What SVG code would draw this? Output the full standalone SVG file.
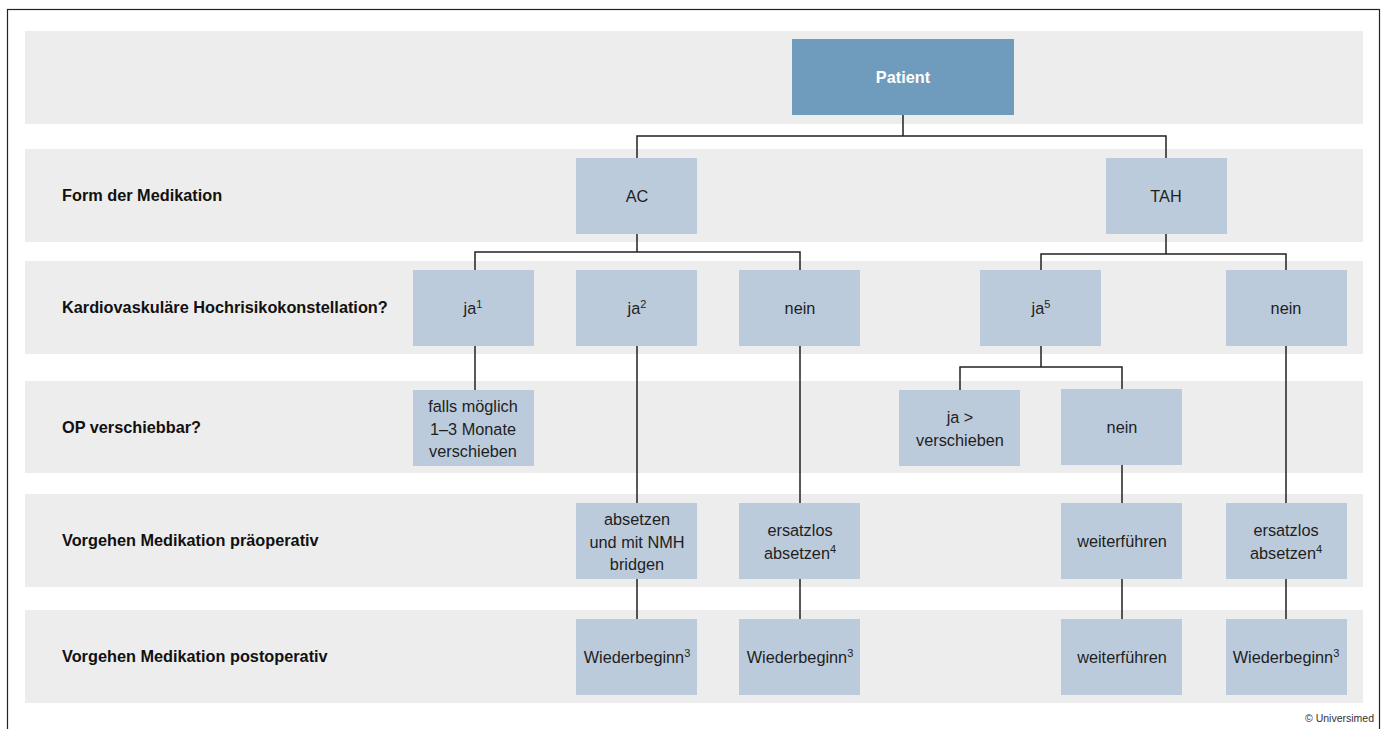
<svg xmlns="http://www.w3.org/2000/svg" width="1387" height="729" viewBox="0 0 1387 729">
<style>
.band{fill:#ededed}
.node{fill:#bccbdc}
.root{fill:#6f9bbd}
.lbl{font-family:"Liberation Sans",Arial,sans-serif;font-weight:bold;font-size:16.3px;fill:#111}
.t{font-family:"Liberation Sans",Arial,sans-serif;font-size:16.3px;fill:#1e1e1e;text-anchor:middle}
.rt{font-family:"Liberation Sans",Arial,sans-serif;font-size:16.3px;font-weight:bold;fill:#ffffff;text-anchor:middle}
.sup{font-size:11px}
.c{fill:none;stroke:#222;stroke-width:1.5}
.copy{font-family:"Liberation Sans",Arial,sans-serif;font-size:10.5px;fill:#333;text-anchor:end}
</style>
<rect x="0" y="0" width="1387" height="729" fill="#fff"/>
<rect x="7.5" y="9.5" width="1372" height="740" fill="none" stroke="#222" stroke-width="1.2"/>
<g id="bands">
<rect class="band" x="25" y="31" width="1338" height="93"/>
<rect class="band" x="25" y="149" width="1338" height="93"/>
<rect class="band" x="25" y="261" width="1338" height="93"/>
<rect class="band" x="25" y="381" width="1338" height="92"/>
<rect class="band" x="25" y="494" width="1338" height="93"/>
<rect class="band" x="25" y="610" width="1338" height="93"/>
</g>
<g id="row-labels">
<text class="lbl" x="62" y="201">Form der Medikation</text>
<text class="lbl" x="62" y="313">Kardiovaskuläre Hochrisikokonstellation?</text>
<text class="lbl" x="62" y="433">OP verschiebbar?</text>
<text class="lbl" x="62" y="546">Vorgehen Medikation präoperativ</text>
<text class="lbl" x="62" y="662">Vorgehen Medikation postoperativ</text>
</g>
<g id="connectors">
<path class="c" d="M903 115V136M637 158V136H1166V158"/>
<path class="c" d="M637 234V252M475 270V252H800V270"/>
<path class="c" d="M1166 234V254M1041 270V254H1286V270"/>
<path class="c" d="M475 346V390"/>
<path class="c" d="M637 346V503M637 579V619"/>
<path class="c" d="M800 346V503M800 579V619"/>
<path class="c" d="M1041 346V367M960 390V367H1122V389"/>
<path class="c" d="M1122 465V503M1122 579V619"/>
<path class="c" d="M1286 346V503M1286 579V619"/>
</g>
<g id="patient"><rect class="root" x="792" y="39" width="222" height="76"/><text class="rt" x="903" y="83">Patient</text></g>
<g id="ac"><rect class="node" x="576" y="158" width="121" height="76"/><text class="t" x="637" y="202">AC</text></g>
<g id="tah"><rect class="node" x="1106" y="158" width="121" height="76"/><text class="t" x="1166" y="202">TAH</text></g>
<g id="ac-ja1"><rect class="node" x="413" y="270" width="121" height="76"/><text class="t" x="473" y="314">ja<tspan class="sup" dy="-6">1</tspan></text></g>
<g id="ac-ja2"><rect class="node" x="576" y="270" width="121" height="76"/><text class="t" x="637" y="314">ja<tspan class="sup" dy="-6">2</tspan></text></g>
<g id="ac-nein"><rect class="node" x="739" y="270" width="121" height="76"/><text class="t" x="800" y="314">nein</text></g>
<g id="tah-ja5"><rect class="node" x="980" y="270" width="121" height="76"/><text class="t" x="1041" y="314">ja<tspan class="sup" dy="-6">5</tspan></text></g>
<g id="tah-nein"><rect class="node" x="1226" y="270" width="121" height="76"/><text class="t" x="1286" y="314">nein</text></g>
<g id="verschieben13"><rect class="node" x="413" y="390" width="121" height="76"/><text class="t" x="473" y="412">falls möglich<tspan x="473" dy="22.5">1–3 Monate</tspan><tspan x="473" dy="22.5">verschieben</tspan></text></g>
<g id="ja-verschieben"><rect class="node" x="899" y="390" width="121" height="76"/><text class="t" x="960" y="423">ja &gt;<tspan x="960" dy="22.5">verschieben</tspan></text></g>
<g id="op-nein"><rect class="node" x="1061" y="389" width="121" height="76"/><text class="t" x="1122" y="433">nein</text></g>
<g id="bridgen"><rect class="node" x="576" y="503" width="121" height="76"/><text class="t" x="637" y="525">absetzen<tspan x="637" dy="22.5">und mit NMH</tspan><tspan x="637" dy="22.5">bridgen</tspan></text></g>
<g id="ersatzlos-ac"><rect class="node" x="739" y="503" width="121" height="76"/><text class="t" x="800" y="536">ersatzlos<tspan x="800" dy="22.5">absetzen</tspan><tspan class="sup" dy="-6">4</tspan></text></g>
<g id="weiter-pre"><rect class="node" x="1061" y="503" width="121" height="76"/><text class="t" x="1122" y="547">weiterführen</text></g>
<g id="ersatzlos-tah"><rect class="node" x="1226" y="503" width="121" height="76"/><text class="t" x="1286" y="536">ersatzlos<tspan x="1286" dy="22.5">absetzen</tspan><tspan class="sup" dy="-6">4</tspan></text></g>
<g id="wieder-1"><rect class="node" x="576" y="619" width="121" height="76"/><text class="t" x="637" y="663">Wiederbeginn<tspan class="sup" dy="-6">3</tspan></text></g>
<g id="wieder-2"><rect class="node" x="739" y="619" width="121" height="76"/><text class="t" x="800" y="663">Wiederbeginn<tspan class="sup" dy="-6">3</tspan></text></g>
<g id="weiter-post"><rect class="node" x="1061" y="619" width="121" height="76"/><text class="t" x="1122" y="663">weiterführen</text></g>
<g id="wieder-3"><rect class="node" x="1226" y="619" width="121" height="76"/><text class="t" x="1286" y="663">Wiederbeginn<tspan class="sup" dy="-6">3</tspan></text></g>
<text class="copy" x="1374" y="722">© Universimed</text>
</svg>
